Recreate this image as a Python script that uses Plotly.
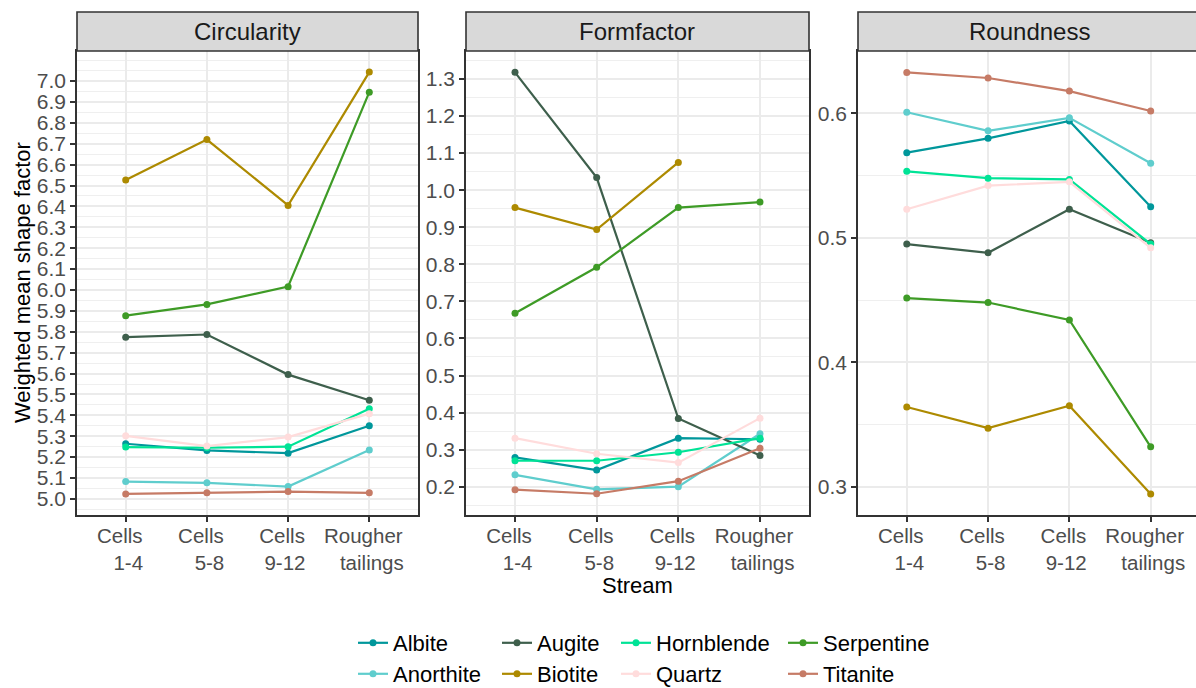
import plotly.graph_objects as go

W, H = 1196, 688

streams = ["Cells 1-4", "Cells 5-8", "Cells 9-12", "Rougher tailings"]
stream_ticktext = ["Cells<br>\u00a0\u00a0\u00a01-4", "Cells<br>\u00a0\u00a0\u00a05-8",
                   "Cells<br>\u00a09-12", "Rougher<br>\u00a0\u00a0\u00a0tailings"]
minerals = ["Albite", "Anorthite", "Augite", "Biotite", "Hornblende", "Quartz", "Serpentine", "Titanite"]
colors = ["#00979B", "#5FCDCD", "#3E5F4C", "#AD8A00", "#00E396", "#FFDCDC", "#3E9B26", "#C67B66"]
facets = ["Circularity", "Formfactor", "Roundness"]

circularity = {
    "Albite":     [5.264, 5.232, 5.219, 5.350],
    "Anorthite":  [5.083, 5.077, 5.059, 5.234],
    "Augite":     [5.774, 5.787, 5.595, 5.472],
    "Biotite":    [6.527, 6.720, 6.405, 7.043],
    "Hornblende": [5.248, 5.245, 5.250, 5.432],
    "Quartz":     [5.302, 5.253, 5.296, 5.408],
    "Serpentine": [5.877, 5.931, 6.016, 6.947],
    "Titanite":   [5.024, 5.029, 5.035, 5.029],
}
formfactor = {
    "Albite":     [0.279, 0.245, 0.331, 0.328],
    "Anorthite":  [0.232, 0.193, 0.200, 0.343],
    "Augite":     [1.318, 1.034, 0.384, 0.284],
    "Biotite":    [0.953, 0.894, 1.075, None],
    "Hornblende": [0.270, 0.270, 0.293, 0.331],
    "Quartz":     [0.331, 0.289, 0.265, 0.385],
    "Serpentine": [0.668, 0.792, 0.953, 0.968],
    "Titanite":   [0.192, 0.181, 0.215, 0.304],
}
roundness = {
    "Albite":     [0.5685, 0.580, 0.594, 0.525],
    "Anorthite":  [0.601, 0.586, 0.5965, 0.560],
    "Augite":     [0.495, 0.488, 0.523, 0.496],
    "Biotite":    [0.364, 0.347, 0.365, 0.294],
    "Hornblende": [0.5535, 0.548, 0.547, 0.495],
    "Quartz":     [0.523, 0.542, 0.545, 0.492],
    "Serpentine": [0.4516, 0.448, 0.434, 0.332],
    "Titanite":   [0.633, 0.6285, 0.618, 0.602],
}
panel_data = [circularity, formfactor, roundness]

circ_ticks = [round(5.0 + 0.1 * i, 1) for i in range(21)]
form_ticks = [round(0.2 + 0.1 * i, 1) for i in range(12)]
round_ticks = [0.3, 0.4, 0.5, 0.6]
tick_sets = [circ_ticks, form_ticks, round_ticks]
y_ranges = [[4.923, 7.144], [0.1237, 1.3755], [0.2772, 0.6502]]

# layout in pixels
panel_x = [(77, 418), (466, 809), (858, 1196)]
panel_top, panel_bot = 51, 515
strip_top = 12
unit = 81.3

FONT = "Liberation Sans, Arial, sans-serif"
fig = go.Figure()

legend_cols = [353, 497, 616, 783]
legend_rows = [643, 674]

for p in range(3):
    xa = "x" if p == 0 else f"x{p+1}"
    ya = "y" if p == 0 else f"y{p+1}"
    for i, m in enumerate(minerals):
        leg = "legend" if i == 0 else f"legend{i+1}"
        fig.add_trace(go.Scatter(
            x=streams, y=panel_data[p][m], mode="lines+markers", name=m,
            line=dict(color=colors[i], width=2.2),
            marker=dict(color=colors[i], size=7),
            xaxis=xa, yaxis=ya, legend=leg,
            showlegend=(p == 0), connectgaps=False,
        ))

layout = dict(
    width=W, height=H, autosize=False,
    margin=dict(l=0, r=0, t=0, b=0, autoexpand=False),
    paper_bgcolor="white", plot_bgcolor="white",
    font=dict(family=FONT, color="#4D4D4D"),
    showlegend=True,
)

ydom = [1 - panel_bot / H, 1 - panel_top / H]
for p in range(3):
    x0, x1 = panel_x[p]
    xkey = "xaxis" if p == 0 else f"xaxis{p+1}"
    ykey = "yaxis" if p == 0 else f"yaxis{p+1}"
    xr = [-0.6, -0.6 + (x1 - x0) / unit] if p == 2 else [-0.6, 3.6]
    layout[xkey] = dict(
        domain=[x0 / W, x1 / W], anchor="y" if p == 0 else f"y{p+1}",
        type="category", categoryorder="array", categoryarray=streams,
        range=xr, tickmode="array", tickvals=streams, ticktext=stream_ticktext,
        showgrid=True, gridcolor="#EBEBEB", gridwidth=2,
        showline=True, linecolor="#333333", linewidth=1.6, mirror=True,
        ticks="outside", ticklen=5, tickwidth=1.5, tickcolor="#333333",
        tickfont=dict(size=20.5, color="#4D4D4D", family=FONT),
        ticklabelshift=-6, ticklabelstandoff=-3, automargin=False,
        zeroline=False, fixedrange=True,
    )
    layout[ykey] = dict(
        domain=ydom, anchor="x" if p == 0 else f"x{p+1}",
        range=y_ranges[p], tickmode="array", tickvals=tick_sets[p],
        ticktext=[f"{v:.1f}" for v in tick_sets[p]],
        showgrid=True, gridcolor="#EBEBEB", gridwidth=2,
        minor=dict(dtick=0.05, tick0=0, showgrid=True, gridcolor="#EFEFEF", gridwidth=1, ticks=""),
        showline=True, linecolor="#333333", linewidth=1.6, mirror=(p != 2),
        ticks="outside", ticklen=5, tickwidth=1.5, tickcolor="#333333",
        tickfont=dict(size=21, color="#4D4D4D", family=FONT),
        automargin=False, zeroline=False, fixedrange=True,
    )

# legends: one per entry, arranged as 4 columns x 2 rows
for i, m in enumerate(minerals):
    key = "legend" if i == 0 else f"legend{i+1}"
    col, row = i // 2, i % 2
    layout[key] = dict(
        x=legend_cols[col] / W, y=1 - legend_rows[row] / H,
        xanchor="left", yanchor="middle", orientation="v",
        bgcolor="rgba(0,0,0,0)", borderwidth=0,
        font=dict(size=22, color="#000000", family=FONT),
        itemwidth=30, tracegroupgap=0,
    )

shapes = []
annotations = []
for p in range(3):
    x0, x1 = panel_x[p]
    xe = x1 + 10 if p == 2 else x1
    shapes.append(dict(type="rect", xref="paper", yref="paper",
                       x0=x0 / W, x1=xe / W, y0=1 - panel_top / H, y1=1 - strip_top / H,
                       fillcolor="#D9D9D9", line=dict(color="#333333", width=1.6), layer="above"))
    annotations.append(dict(text=facets[p], xref="paper", yref="paper",
                            x=(x0 + (x1 if p < 2 else 1200)) / 2 / W, y=1 - (panel_top + strip_top) / 2 / H,
                            xanchor="center", yanchor="middle", showarrow=False,
                            font=dict(size=24, color="#1A1A1A", family=FONT)))

annotations.append(dict(text="Stream", xref="paper", yref="paper",
                        x=(466 + 809) / 2 / W, y=1 - 585 / H, xanchor="center", yanchor="middle",
                        showarrow=False, font=dict(size=22, color="#000000", family=FONT)))
annotations.append(dict(text="Weighted mean shape factor", xref="paper", yref="paper",
                        x=23 / W, y=1 - (panel_top + panel_bot) / 2 / H, xanchor="center", yanchor="middle",
                        textangle=-90, showarrow=False, font=dict(size=22, color="#000000", family=FONT)))

layout["shapes"] = shapes
layout["annotations"] = annotations
fig.update_layout(**layout)

fig.write_html("out.html", config={"displayModeBar": False},
               post_script="document.body.style.margin='0';document.body.style.overflow='hidden';")
